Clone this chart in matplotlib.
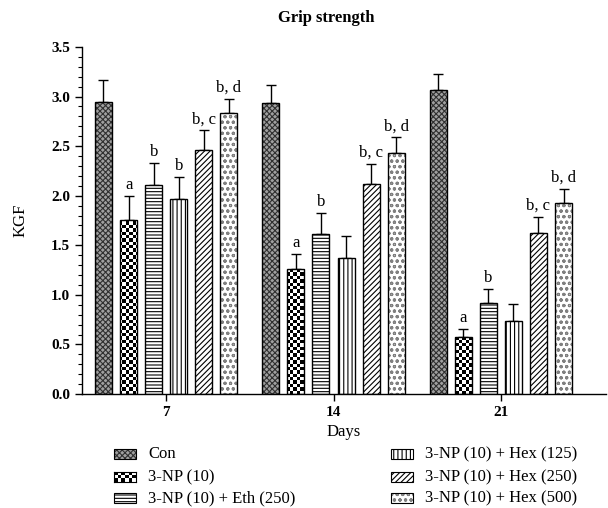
import numpy as np
import matplotlib
matplotlib.use('Agg')
import matplotlib.pyplot as plt
from matplotlib.patches import Rectangle

#--------------------------------------------------------------------------------
#Du lieu doc tu hinh
#--------------------------------------------------------------------------------
days = ['7', '14', '21']
groups = ['Con', '3-NP (10)', '3-NP (10) + Eth (250)',
          '3-NP (10) + Hex (125)', '3-NP (10) + Hex (250)', '3-NP (10) + Hex (500)']

con      = [2.95, 2.94, 3.07]
np10     = [1.76, 1.26, 0.57]
eth250   = [2.11, 1.61, 0.92]
hex125   = [1.97, 1.37, 0.735]
hex250   = [2.46, 2.12, 1.62]
hex500   = [2.83, 2.43, 1.93]

con_err    = [0.22, 0.18, 0.16]
np10_err   = [0.24, 0.15, 0.09]
eth250_err = [0.22, 0.22, 0.14]
hex125_err = [0.22, 0.22, 0.175]
hex250_err = [0.20, 0.20, 0.17]
hex500_err = [0.15, 0.16, 0.14]

nhan = [[None, None, None],
        ['a', 'a', 'a'],
        ['b', 'b', 'b'],
        ['b', None, None],
        ['b, c', 'b, c', 'b, c'],
        ['b, d', 'b, d', 'b, d']]

values = [con, np10, eth250, hex125, hex250, hex500]
errors = [con_err, np10_err, eth250_err, hex125_err, hex250_err, hex500_err]

#Kieu to mau cho tung nhom (mau nen, hatch, mau hatch)
styles = [('#a0a0a0', 'xxxxxx', '#303030'),
          ('white', None, 'black'),
          ('white', '-----', 'black'),
          ('white', '||||', 'black'),
          ('white', '//////', 'black'),
          ('white', 'ooo', '#808080')]

plt.rcParams['font.family'] = ['Liberation Serif', 'DejaVu Serif']
plt.rcParams['hatch.linewidth'] = 0.8

fig = plt.figure(figsize=(6.08, 5.08), dpi=100)
ax = fig.add_axes([0.135, 0.2244, 0.862, 0.6831])

x = np.arange(len(days))
w = 0.102
pitch = 0.15

#Anh ban co cho nhom 3-NP (10)
nx, ny = 160, 104
checker = (np.add.outer(np.arange(ny), np.arange(nx)) % 2).astype(float)

legend_handles = []
for i in range(len(groups)):
    xs = x + (i - 2.5) * pitch
    fc, hatch, hc = styles[i]
    bars = ax.bar(xs, values[i], w, color=fc, hatch=hatch, edgecolor=hc,
                  linewidth=0, zorder=2)
    if i == 1:
        for b in bars:
            im = ax.imshow(checker, cmap='gray', extent=(-0.5, 2.65, 0, 3.54),
                           interpolation='nearest', aspect='auto', zorder=2.5)
            im.set_clip_path(b)
    ax.bar(xs, values[i], w, fill=False, edgecolor='black', linewidth=1.0, zorder=3)
    ax.errorbar(xs, values[i], yerr=[np.zeros(3), errors[i]], fmt='none',
                ecolor='black', elinewidth=1.0, capsize=3.5, capthick=1.0, zorder=1)
    for j in range(3):
        if nhan[i][j]:
            ax.text(xs[j], values[i][j] + errors[i][j] + 0.03, nhan[i][j],
                    ha='center', va='bottom', fontsize=12)
    legend_handles.append((fc, hatch, hc))

ax.set_xlim(-0.503, 2.63)
ax.set_ylim(0, 3.5)
ax.set_xticks(x)
ax.set_xticklabels(days, fontweight='bold', fontsize=11)
ax.set_yticks(np.arange(0, 3.51, 0.5))
ax.set_yticklabels(['%.1f' % v for v in np.arange(0, 3.51, 0.5)], fontweight='bold', fontsize=11)
ax.set_yticks(np.arange(0, 3.51, 0.1), minor=True)
ax.tick_params(axis='y', which='major', length=5, width=1)
ax.tick_params(axis='y', which='minor', length=3, width=0.8)
ax.tick_params(axis='x', length=5, width=1)
ax.spines['top'].set_visible(False)
ax.spines['right'].set_visible(False)
ax.spines['left'].set_linewidth(1.0)
ax.spines['bottom'].set_linewidth(1.0)
ax.set_xlabel('Days', fontsize=12, labelpad=4)
ax.set_ylabel('KGF', fontsize=12, labelpad=16)

fig.text(0.536, 0.965, 'Grip strength', ha='center', va='center',
         fontweight='bold', fontsize=12)

#Chu giai (legend) ve bang tay hai cot
pos = [(0.188, 0.106), (0.188, 0.061), (0.188, 0.019),
       (0.643, 0.106), (0.643, 0.061), (0.643, 0.019)]
pw, ph = 22 / 608, 10 / 508
for i in range(len(groups)):
    fc, hatch, hc = legend_handles[i]
    px, py = pos[i]
    if i == 1:
        lax = fig.add_axes([px, py - ph / 2, pw, ph])
        lax.imshow(checker[:3, :6], cmap='gray', interpolation='nearest', aspect='auto')
        lax.set_xticks([])
        lax.set_yticks([])
    else:
        fig.patches.append(Rectangle((px, py - ph / 2), pw, ph, transform=fig.transFigure,
                                     facecolor=fc, hatch=hatch, edgecolor=hc, linewidth=0))
        fig.patches.append(Rectangle((px, py - ph / 2), pw, ph, transform=fig.transFigure,
                                     fill=False, edgecolor='black', linewidth=0.8))
    fig.text(px + pw + 0.02, py, groups[i], ha='left', va='center', fontsize=12)

fig.savefig('out.png', dpi=100)
